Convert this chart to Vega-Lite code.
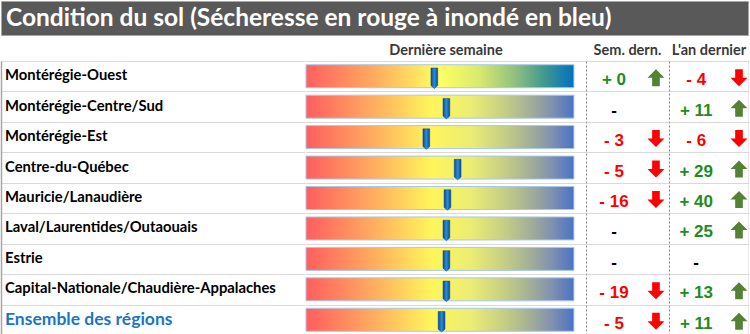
{
  "$schema": "https://vega.github.io/schema/vega-lite/v6.json",
  "padding": 0,
  "background": "white",
  "spacing": 6,
  "config": {
    "view": {"stroke": null},
    "font": "Lato",
    "title": {"font": "Lato", "fontSize": 14.5, "fontWeight": "bold", "color": "#3a3a3a", "offset": 3, "anchor": "middle"},
    "axis": {"labels": false, "ticks": false, "title": null, "grid": false, "domain": false}
  },
  "datasets": {
    "titre": [{"texte": "Condition du sol (Sécheresse en rouge à inondé en bleu)"}],
    "rows": [
      {"region": "Montérégie-Ouest", "marqueur": 47.9, "sem": 0, "sem_txt": "+ 0", "an": -4, "an_txt": "- 4"},
      {"region": "Montérégie-Centre/Sud", "marqueur": 52.4, "sem": null, "sem_txt": "-", "an": 11, "an_txt": "+ 11"},
      {"region": "Montérégie-Est", "marqueur": 44.9, "sem": -3, "sem_txt": "- 3", "an": -6, "an_txt": "- 6"},
      {"region": "Centre-du-Québec", "marqueur": 56.6, "sem": -5, "sem_txt": "- 5", "an": 29, "an_txt": "+ 29"},
      {"region": "Mauricie/Lanaudière", "marqueur": 52.8, "sem": -16, "sem_txt": "- 16", "an": 40, "an_txt": "+ 40"},
      {"region": "Laval/Laurentides/Outaouais", "marqueur": 52.4, "sem": null, "sem_txt": "-", "an": 25, "an_txt": "+ 25"},
      {"region": "Estrie", "marqueur": 52.4, "sem": null, "sem_txt": "-", "an": null, "an_txt": "-"},
      {"region": "Capital-Nationale/Chaudière-Appalaches", "marqueur": 52.4, "sem": -19, "sem_txt": "- 19", "an": 13, "an_txt": "+ 13"},
      {"region": "Ensemble des régions", "marqueur": 50.6, "sem": -5, "sem_txt": "- 5", "an": 11, "an_txt": "+ 11"}
    ]
  },
  "vconcat": [
    {
      "width": 747,
      "height": 34,
      "view": {"fill": "#595959", "stroke": "#a6a6a6"},
      "data": {"name": "titre"},
      "mark": {"type": "text", "align": "left", "baseline": "middle", "dx": 5, "dy": 1, "font": "Lato", "fontSize": 24.5, "fontWeight": "bold", "color": "white"},
      "encoding": {
        "x": {"datum": 0, "type": "quantitative", "scale": {"domain": [0, 1], "nice": false}, "axis": null},
        "text": {"field": "texte"}
      }
    },
    {
      "spacing": 0,
      "hconcat": [
        {
          "width": 304,
          "height": 274,
          "title": " ",
          "data": {"name": "rows"},
          "mark": {"type": "text", "align": "left", "baseline": "middle", "dx": 4, "font": "Lato", "fontWeight": "bold"},
          "encoding": {
            "y": {"field": "region", "type": "nominal", "sort": null, "scale": {"paddingInner": 0, "paddingOuter": 0},
              "axis": {"orient": "left", "domain": true, "domainColor": "#a6a6a6", "domainWidth": 1.5, "grid": true, "tickBand": "extent",
                "gridColor": {"condition": {"test": "datum.value === 'Ensemble des régions'", "value": "#b0b0b0"}, "value": "#d9d9d9"},
                "gridWidth": {"condition": {"test": "datum.value === 'Ensemble des régions'", "value": 2}, "value": 1}}},
            "x": {"datum": 0, "type": "quantitative", "scale": {"domain": [0, 1], "nice": false}, "axis": null},
            "text": {"field": "region"},
            "color": {"condition": {"test": "datum.region === 'Ensemble des régions'", "value": "#1b75c6"}, "value": "#000000"},
            "size": {"condition": {"test": "datum.region === 'Ensemble des régions'", "value": 17.5}, "value": 14.8}
          }
        },
        {
          "width": 280,
          "height": 274,
          "title": "Dernière semaine",
          "data": {"name": "rows"},
          "encoding": {
            "y": {"field": "region", "type": "nominal", "sort": null, "scale": {"paddingInner": 0, "paddingOuter": 0},
              "axis": {"orient": "right", "domain": true, "domainColor": "#808080", "domainDash": [2, 2], "grid": true, "tickBand": "extent",
                "gridColor": {"condition": {"test": "datum.value === 'Ensemble des régions'", "value": "#b0b0b0"}, "value": "#d9d9d9"},
                "gridWidth": {"condition": {"test": "datum.value === 'Ensemble des régions'", "value": 2}, "value": 1}}}
          },
          "layer": [
            {
              "mark": {"type": "bar", "height": 23, "stroke": "#a9c8ea", "strokeWidth": 1},
              "encoding": {
                "x": {"datum": 0, "type": "quantitative", "scale": {"domain": [0, 104.5], "nice": false, "zero": false}, "axis": null},
                "x2": {"datum": 100},
                "fill": {
                  "condition": {"test": "datum.region === 'Montérégie-Ouest'", "value": {"gradient": "linear", "x1": 0, "y1": 0, "x2": 1, "y2": 0,
                    "stops": [
                      {"offset": 0, "color": "#ff6060"}, {"offset": 0.25, "color": "#ffaa60"}, {"offset": 0.5, "color": "#ffff62"},
                      {"offset": 0.65, "color": "#d8e870"}, {"offset": 0.78, "color": "#90c080"}, {"offset": 0.89, "color": "#409890"},
                      {"offset": 1, "color": "#0070c0"}]}},
                  "value": {"gradient": "linear", "x1": 0, "y1": 0, "x2": 1, "y2": 0,
                    "stops": [
                      {"offset": 0, "color": "#ff5e5e"}, {"offset": 0.22, "color": "#ffa260"}, {"offset": 0.47, "color": "#fff65c"},
                      {"offset": 0.62, "color": "#eaec74"}, {"offset": 0.74, "color": "#c6ce84"}, {"offset": 0.84, "color": "#a2ae98"},
                      {"offset": 0.92, "color": "#8090b0"}, {"offset": 1, "color": "#4a72c4"}]}
                }
              }
            },
            {
              "mark": {"type": "point", "shape": "M-0.33,-1 L0.33,-1 L0.33,0.72 L0,1 L-0.33,0.72 Z", "filled": true, "opacity": 1, "size": 420, "yOffset": 2,
                "fill": {"gradient": "linear", "x1": 0, "y1": 0, "x2": 1, "y2": 0,
                  "stops": [{"offset": 0, "color": "#0a4a8c"}, {"offset": 0.5, "color": "#2a8be0"}, {"offset": 1, "color": "#0a4a8c"}]},
                "stroke": "#0b4a8a", "strokeWidth": 0.5},
              "encoding": {"x": {"field": "marqueur", "type": "quantitative"}}
            }
          ]
        },
        {
          "width": 83,
          "height": 274,
          "title": "Sem. dern.",
          "data": {"name": "rows"},
          "encoding": {
            "y": {"field": "region", "type": "nominal", "sort": null, "scale": {"paddingInner": 0, "paddingOuter": 0},
              "axis": {"orient": "right", "domain": true, "domainColor": "#808080", "domainDash": [2, 2], "grid": true, "tickBand": "extent",
                "gridColor": {"condition": {"test": "datum.value === 'Ensemble des régions'", "value": "#b0b0b0"}, "value": "#d9d9d9"},
                "gridWidth": {"condition": {"test": "datum.value === 'Ensemble des régions'", "value": 2}, "value": 1}}}
          },
          "layer": [
            {
              "mark": {"type": "text", "font": "Liberation Sans", "fontWeight": "bold", "fontSize": 17, "baseline": "middle", "dy": 4},
              "encoding": {
                "x": {"datum": 0.337, "type": "quantitative", "scale": {"domain": [0, 1], "nice": false}, "axis": null},
                "text": {"field": "sem_txt"},
                "color": {"condition": [{"test": "datum.sem === null", "value": "#000000"}, {"test": "datum.sem >= 0", "value": "#1e8c1e"}], "value": "#ff0000"}
              }
            },
            {
              "mark": {"type": "point", "filled": true, "size": 289, "yOffset": 1.5},
              "encoding": {
                "x": {"datum": 0.843, "type": "quantitative"},
                "shape": {"condition": {"test": "datum.sem >= 0", "value": "M0,-1 L1,0 L0.45,0 L0.45,1 L-0.45,1 L-0.45,0 L-1,0 Z"}, "value": "M0,1 L1,0 L0.45,0 L0.45,-1 L-0.45,-1 L-0.45,0 L-1,0 Z"},
                "color": {"condition": {"test": "datum.sem >= 0", "value": "#548235"}, "value": "#ff0000"},
                "opacity": {"condition": {"test": "datum.sem === null", "value": 0}, "value": 1}
              }
            }
          ]
        },
        {
          "width": 80,
          "height": 274,
          "title": "L'an dernier",
          "data": {"name": "rows"},
          "encoding": {
            "y": {"field": "region", "type": "nominal", "sort": null, "scale": {"paddingInner": 0, "paddingOuter": 0},
              "axis": {"orient": "right", "domain": true, "domainColor": "#a6a6a6", "domainWidth": 1.5, "grid": true, "tickBand": "extent",
                "gridColor": {"condition": {"test": "datum.value === 'Ensemble des régions'", "value": "#b0b0b0"}, "value": "#d9d9d9"},
                "gridWidth": {"condition": {"test": "datum.value === 'Ensemble des régions'", "value": 2}, "value": 1}}}
          },
          "layer": [
            {
              "mark": {"type": "text", "font": "Liberation Sans", "fontWeight": "bold", "fontSize": 17, "baseline": "middle", "dy": 4},
              "encoding": {
                "x": {"datum": 0.34, "type": "quantitative", "scale": {"domain": [0, 1], "nice": false}, "axis": null},
                "text": {"field": "an_txt"},
                "color": {"condition": [{"test": "datum.an === null", "value": "#000000"}, {"test": "datum.an >= 0", "value": "#1e8c1e"}], "value": "#ff0000"}
              }
            },
            {
              "mark": {"type": "point", "filled": true, "size": 289, "yOffset": 1.5},
              "encoding": {
                "x": {"datum": 0.875, "type": "quantitative"},
                "shape": {"condition": {"test": "datum.an >= 0", "value": "M0,-1 L1,0 L0.45,0 L0.45,1 L-0.45,1 L-0.45,0 L-1,0 Z"}, "value": "M0,1 L1,0 L0.45,0 L0.45,-1 L-0.45,-1 L-0.45,0 L-1,0 Z"},
                "color": {"condition": {"test": "datum.an >= 0", "value": "#548235"}, "value": "#ff0000"},
                "opacity": {"condition": {"test": "datum.an === null", "value": 0}, "value": 1}
              }
            }
          ]
        }
      ]
    }
  ]
}
